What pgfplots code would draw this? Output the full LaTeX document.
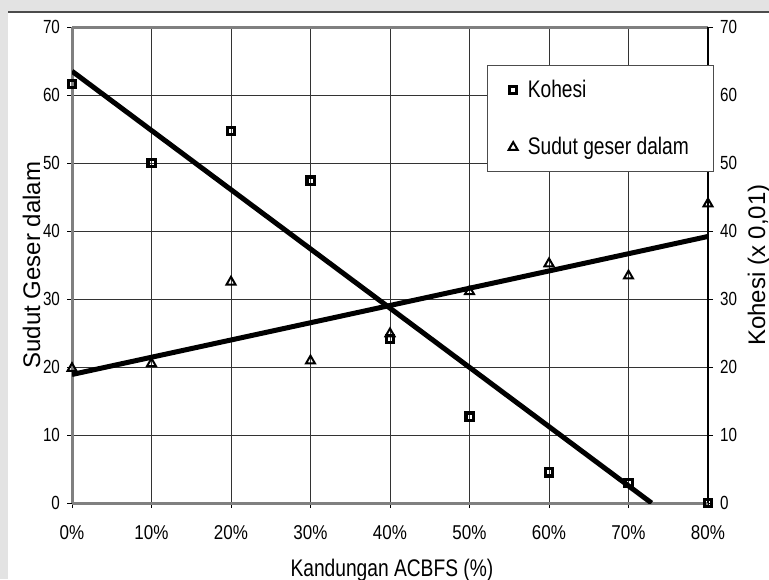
\documentclass[border=0pt]{standalone}
\usepackage{fontspec}
\setmainfont{Liberation Sans}
\newfontfamily\narrowfont[FakeStretch=0.8]{Liberation Sans}
\newfontfamily\tickfont[FakeStretch=0.85]{Liberation Sans}
\usepackage{pgfplots}
\usepackage{pgfplotstable}
\pgfplotsset{compat=1.18}

% Kohesi (x 0,01) per ACBFS content
\pgfplotstableread{
x   kohesi
0   61.6
10  50.0
20  54.7
30  47.4
40  24.1
50  12.7
60  4.5
70  2.9
80  0.0
}\kohesi

% Sudut geser dalam per ACBFS content
\pgfplotstableread{
x   sudut
0   19.8
10  20.5
20  32.5
30  20.9
40  24.9
50  31.1
60  35.2
70  33.4
80  44.0
}\sudut

\pgfplotsset{
  kohesimark/.style={only marks, mark=square, mark size=1.8pt,
    mark options={draw=black, fill=white, line width=1.6pt}},
  sudutmark/.style={only marks, mark=triangle, mark size=2.6pt,
    mark options={draw=black, fill=white, line width=1pt}},
}

\begin{document}
\begin{tikzpicture}
\useasboundingbox (0,0) rectangle (384.5pt,-289.5pt);
\fill[gray!22] (0,0) rectangle (384.5pt,-289.5pt);
\fill[white] (4pt,-6pt) rectangle (384.5pt,-289.5pt);
\draw[gray!60!black, line width=1pt] (4pt,-6pt) -- (384.5pt,-6pt);

\begin{axis}[
  at={(36pt,-251.5pt)}, anchor=south west,
  scale only axis, width=318pt, height=238pt,
  xmin=0, xmax=80, ymin=0, ymax=70,
  axis x line=box, axis y line*=left,
  x axis line style={gray, line width=1.5pt},
  y axis line style={gray, line width=1.5pt},
  xtick={0,10,...,80}, ytick={0,10,...,70},
  xtick pos=left,
  tick align=outside, major tick length=2.5pt,
  tick style={black, line width=0.5pt},
  grid=major, major grid style={black!80, line width=0.5pt},
  /pgf/number format/assume math mode=true,
  xticklabel style={font=\fontsize{10}{10}\tickfont, yshift=-5pt},
  yticklabel style={font=\fontsize{9.5}{9.5}\narrowfont},
  xticklabel={\pgfmathprintnumber{\tick}\%},
  ylabel={Sudut Geser dalam},
  ylabel style={at={(axis description cs:-0.0635,0.5)}, anchor=center,
    font=\fontsize{12}{12}\selectfont},
  xlabel={Kandungan ACBFS (\%)},
  xlabel style={at={(axis description cs:0.503,-0.141)}, anchor=center,
    font=\fontsize{12}{12}\narrowfont},
]
  % linear trend lines
  \addplot[black, line width=2.5pt] coordinates {(0,63.5) (72.9,0)};
  \addplot[black, line width=2.5pt] coordinates {(0,18.9) (80,39.2)};
  % observations
  \addplot[sudutmark] table[x=x, y=sudut] {\sudut};
  \addplot[kohesimark] table[x=x, y=kohesi] {\kohesi};
\end{axis}

\begin{axis}[
  at={(36pt,-251.5pt)}, anchor=south west,
  scale only axis, width=318pt, height=238pt,
  xmin=0, xmax=80, ymin=0, ymax=70,
  axis x line=none, axis y line*=right,
  y axis line style={black, line width=0.75pt},
  ytick={0,10,...,70},
  tick align=outside, major tick length=2.5pt,
  tick style={black, line width=0.5pt},
  /pgf/number format/assume math mode=true,
  yticklabel style={font=\fontsize{9.5}{9.5}\narrowfont},
  ylabel={Kohesi (x 0,01)},
  ylabel style={at={(axis description cs:1.0802,0.5)}, anchor=center,
    font=\fontsize{12}{12}\selectfont},
  legend style={at={(axis description cs:0.6525,0.920)}, anchor=north west,
    draw=black!70, line width=0.6pt, fill=white,
    font=\fontsize{12}{12}\narrowfont,
    inner xsep=9.5pt, inner ysep=5pt, row sep=14.5pt},
  legend cell align=left,
  legend image code/.code={\path (0pt,0pt) (8pt,0pt);
    \draw[#1] plot coordinates {(3pt,0pt)};},
]
  \addplot[draw=none, forget plot] coordinates {(0,0)};
  \addlegendimage{kohesimark}
  \addlegendentry{\raisebox{0pt}[\height][0pt]{\makebox[81.5pt][l]{Kohesi}}}
  \addlegendimage{sudutmark}
  \addlegendentry{\raisebox{0pt}[\height][0pt]{\makebox[81.5pt][l]{Sudut geser dalam}}}
\end{axis}
\end{tikzpicture}
\end{document}
